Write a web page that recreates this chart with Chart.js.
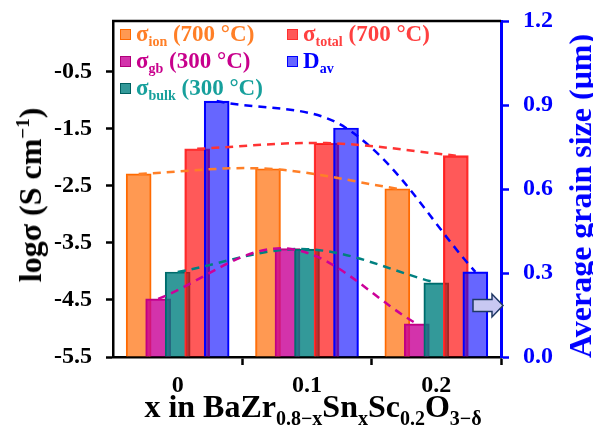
<!DOCTYPE html>
<html lang="en">
<head>
<meta charset="UTF-8">
<title>Conductivity and grain size vs Sn content</title>
<script src="https://cdn.jsdelivr.net/npm/chart.js"></script>
<style>
  body { margin: 0; background: #fff; }
  #wrap { position: relative; width: 593px; height: 430px; font-family: "Liberation Serif", "Times New Roman", serif; font-weight: bold; }
  canvas { position: absolute; left: 0; top: 0; }
  .leg { position: absolute; font-size: 23px; line-height: 26px; white-space: nowrap; }
  .sw { display: inline-block; width: 9px; height: 9px; border: 1.5px solid; margin-right: 5px; vertical-align: 1px; }
  .leg sub { font-size: 14px; vertical-align: -5px; line-height: 0; }
  .title { position: absolute; white-space: nowrap; font-size: 32px; line-height: 32px; transform: translate(-50%, -50%); }
  .title sub { font-size: 20px; vertical-align: -8px; line-height: 0; }
  .title sup { font-size: 19px; vertical-align: 12px; line-height: 0; }
  .rot { transform: translate(-50%, -50%) rotate(-90deg); }
</style>
</head>
<body>
<div id="wrap">
  <canvas id="myChart" width="593" height="430"></canvas>

  <div class="leg" style="left:120px; top:21px; color:#ff7f27"><span class="sw" style="background:rgba(255,127,39,0.8); border-color:#ff6a00"></span><span>σ<sub>ion</sub> (700 °C)</span></div>
  <div class="leg" style="left:120px; top:48px; color:#c8008c"><span class="sw" style="background:rgba(200,0,150,0.8); border-color:#b0007a"></span><span>σ<sub>gb</sub> (300 °C)</span></div>
  <div class="leg" style="left:120px; top:75px; color:#17a09c"><span class="sw" style="background:rgba(0,128,128,0.8); border-color:#006060"></span><span>σ<sub>bulk</sub> (300 °C)</span></div>
  <div class="leg" style="left:287px; top:21px; color:#ff4040"><span class="sw" style="background:rgba(255,0,0,0.65); border-color:#ff3030"></span><span>σ<sub>total</sub> (700 °C)</span></div>
  <div class="leg" style="left:287px; top:48px; color:#0000ff"><span class="sw" style="background:rgba(0,0,255,0.6); border-color:#0000ff"></span><span>D<sub>av</sub></span></div>

  <div class="title rot" style="left:30px; top:195px">logσ (S cm<sup>−1</sup>)</div>
  <div class="title rot" style="left:580px; top:196px; color:#0000ff">Average grain size (μm)</div>
  <div class="title" style="left:313px; top:406px">x in BaZr<sub>0.8−x</sub>Sn<sub>x</sub>Sc<sub>0.2</sub>O<sub>3−δ</sub></div>
</div>

<script>
  // Data
  const categories = ['0', '0.1', '0.2'];
  const sigmaIon = [-2.29, -2.20, -2.55];
  const sigmaGb = [-4.48, -3.60, -4.92];
  const sigmaBulk = [-4.01, -3.61, -4.20];
  const sigmaTotal = [-1.85, -1.75, -1.97];
  const grainSize = [0.914, 0.818, 0.304];
  const leftTicks = [-5.5, -4.5, -3.5, -2.5, -1.5, -0.5];
  const rightTicks = [0, 0.3, 0.6, 0.9, 1.2];

  const yMin = -5.5, yMax = 0.39;
  const groupWidth = 0.754;   // share of a category used by one group of bars
  const FONT = '"Liberation Serif", "Times New Roman", serif';

  // series in bar order (left to right inside a group)
  const series = [
    { data: sigmaIon,   axis: 'y',  fill: 'rgba(255,127,39,0.8)', border: '#ff6a00', line: '#ff7f27' },
    { data: sigmaGb,    axis: 'y',  fill: 'rgba(200,0,150,0.8)',  border: '#c0007f', line: '#cc0099' },
    { data: sigmaBulk,  axis: 'y',  fill: 'rgba(0,128,128,0.8)',  border: '#006a6a', line: '#008080' },
    { data: sigmaTotal, axis: 'y',  fill: 'rgba(255,0,0,0.65)',   border: '#ff3030', line: '#ff3333' },
    { data: grainSize,  axis: 'y2', fill: 'rgba(0,0,255,0.6)',    border: '#0000ff', line: '#0000ff' },
  ];
  const n = series.length;
  const slot = k => groupWidth * (k - (n - 1) / 2) / n;

  // bars sit on a linear copy of the category axis so they can overlap;
  // later series are drawn on top (lower order = drawn later)
  const barSets = series.map((s, k) => ({
    type: 'bar',
    data: s.data.map((v, i) => ({ x: i + slot(k), y: v })),
    xAxisID: 'x2',
    yAxisID: s.axis,
    base: s.axis === 'y' ? yMin : undefined,
    grouped: false,
    barThickness: 25,
    backgroundColor: s.fill,
    borderColor: s.border,
    borderWidth: 1.5,
    order: n - k + 1,
  }));

  // dashed trend lines through the bar tops
  const lineSets = series.map((s, k) => ({
    type: 'line',
    data: s.data.map((v, i) => ({ x: i + slot(k), y: v })),
    xAxisID: 'x2',
    yAxisID: s.axis,
    borderColor: s.line,
    borderWidth: 2.5,
    borderDash: [8, 6],
    pointRadius: 0,
    tension: 0.35,
    fill: false,
    order: 0,
  }));

  const frame = {
    id: 'frame',
    afterDraw(chart) {
      const { ctx, chartArea: a } = chart;
      ctx.save();
      // top frame line
      ctx.strokeStyle = '#000';
      ctx.lineWidth = 2.5;
      ctx.beginPath();
      ctx.moveTo(a.left - 1, a.top);
      ctx.lineTo(a.right, a.top);
      ctx.stroke();
      // arrow pointing at the right axis
      const yc = a.bottom - 51.5;
      const tip = a.right + 2, hb = a.right - 9, bl = a.right - 28;
      ctx.beginPath();
      ctx.moveTo(bl, yc - 6);
      ctx.lineTo(hb, yc - 6);
      ctx.lineTo(hb, yc - 11.5);
      ctx.lineTo(tip, yc);
      ctx.lineTo(hb, yc + 11.5);
      ctx.lineTo(hb, yc + 6);
      ctx.lineTo(bl, yc + 6);
      ctx.closePath();
      ctx.fillStyle = '#c8c8f2';
      ctx.fill();
      ctx.strokeStyle = '#1f3864';
      ctx.lineWidth = 1.5;
      ctx.stroke();
      ctx.restore();
    }
  };

  const tickFont = { family: FONT, size: 24, weight: 'bold' };
  const noPad = s => { s.paddingTop = 0; s.paddingBottom = 0; };

  const ctx = document.getElementById('myChart').getContext('2d');
  const chart = new Chart(ctx, {
    type: 'bar',
    data: {
      labels: categories,
      datasets: [...barSets, ...lineSets],
    },
    options: {
      responsive: false,
      animation: false,
      layout: { padding: { top: 21, left: 0, right: 0, bottom: 0 } },
      plugins: { legend: { display: false }, tooltip: { enabled: false } },
      scales: {
        x: {
          type: 'category',
          offset: true,
          afterFit: s => { s.height = 73; s.paddingLeft = 0; s.paddingRight = 0; },
          grid: {
            display: true, offset: true, drawOnChartArea: false, drawTicks: true,
            tickLength: 8, tickWidth: 2.5,
            tickColor: c => (c.index === 0 || c.index === categories.length) ? 'rgba(0,0,0,0)' : '#000',
          },
          border: { display: true, color: '#000', width: 2.5 },
          ticks: { color: '#000', font: tickFont, padding: 6 },
        },
        x2: {
          type: 'linear',
          display: false,
          offset: false,
          min: -0.5,
          max: categories.length - 0.5,
        },
        y: {
          type: 'linear',
          position: 'left',
          min: yMin,
          max: yMax,
          afterBuildTicks: s => { s.ticks = leftTicks.map(v => ({ value: v })); },
          afterFit: s => { s.width = 113; noPad(s); },
          grid: { display: true, drawOnChartArea: false, drawTicks: true, tickLength: 7, tickWidth: 2.5, tickColor: '#000' },
          border: { display: true, color: '#000', width: 2.5 },
          ticks: { color: '#000', font: tickFont, padding: 14, callback: v => v.toFixed(1) },
        },
        y2: {
          type: 'linear',
          position: 'right',
          min: 0,
          max: 1.2,
          afterBuildTicks: s => { s.ticks = rightTicks.map(v => ({ value: v })); },
          afterFit: s => { s.width = 92; noPad(s); },
          grid: { display: true, drawOnChartArea: false, drawTicks: true, tickLength: 8, tickWidth: 2.5, tickColor: '#0000ff' },
          border: { display: true, color: '#0000ff', width: 3 },
          ticks: { color: '#0000ff', font: tickFont, padding: 14, callback: v => v.toFixed(1) },
        },
      },
    },
    plugins: [frame],
  });
</script>
</body>
</html>
